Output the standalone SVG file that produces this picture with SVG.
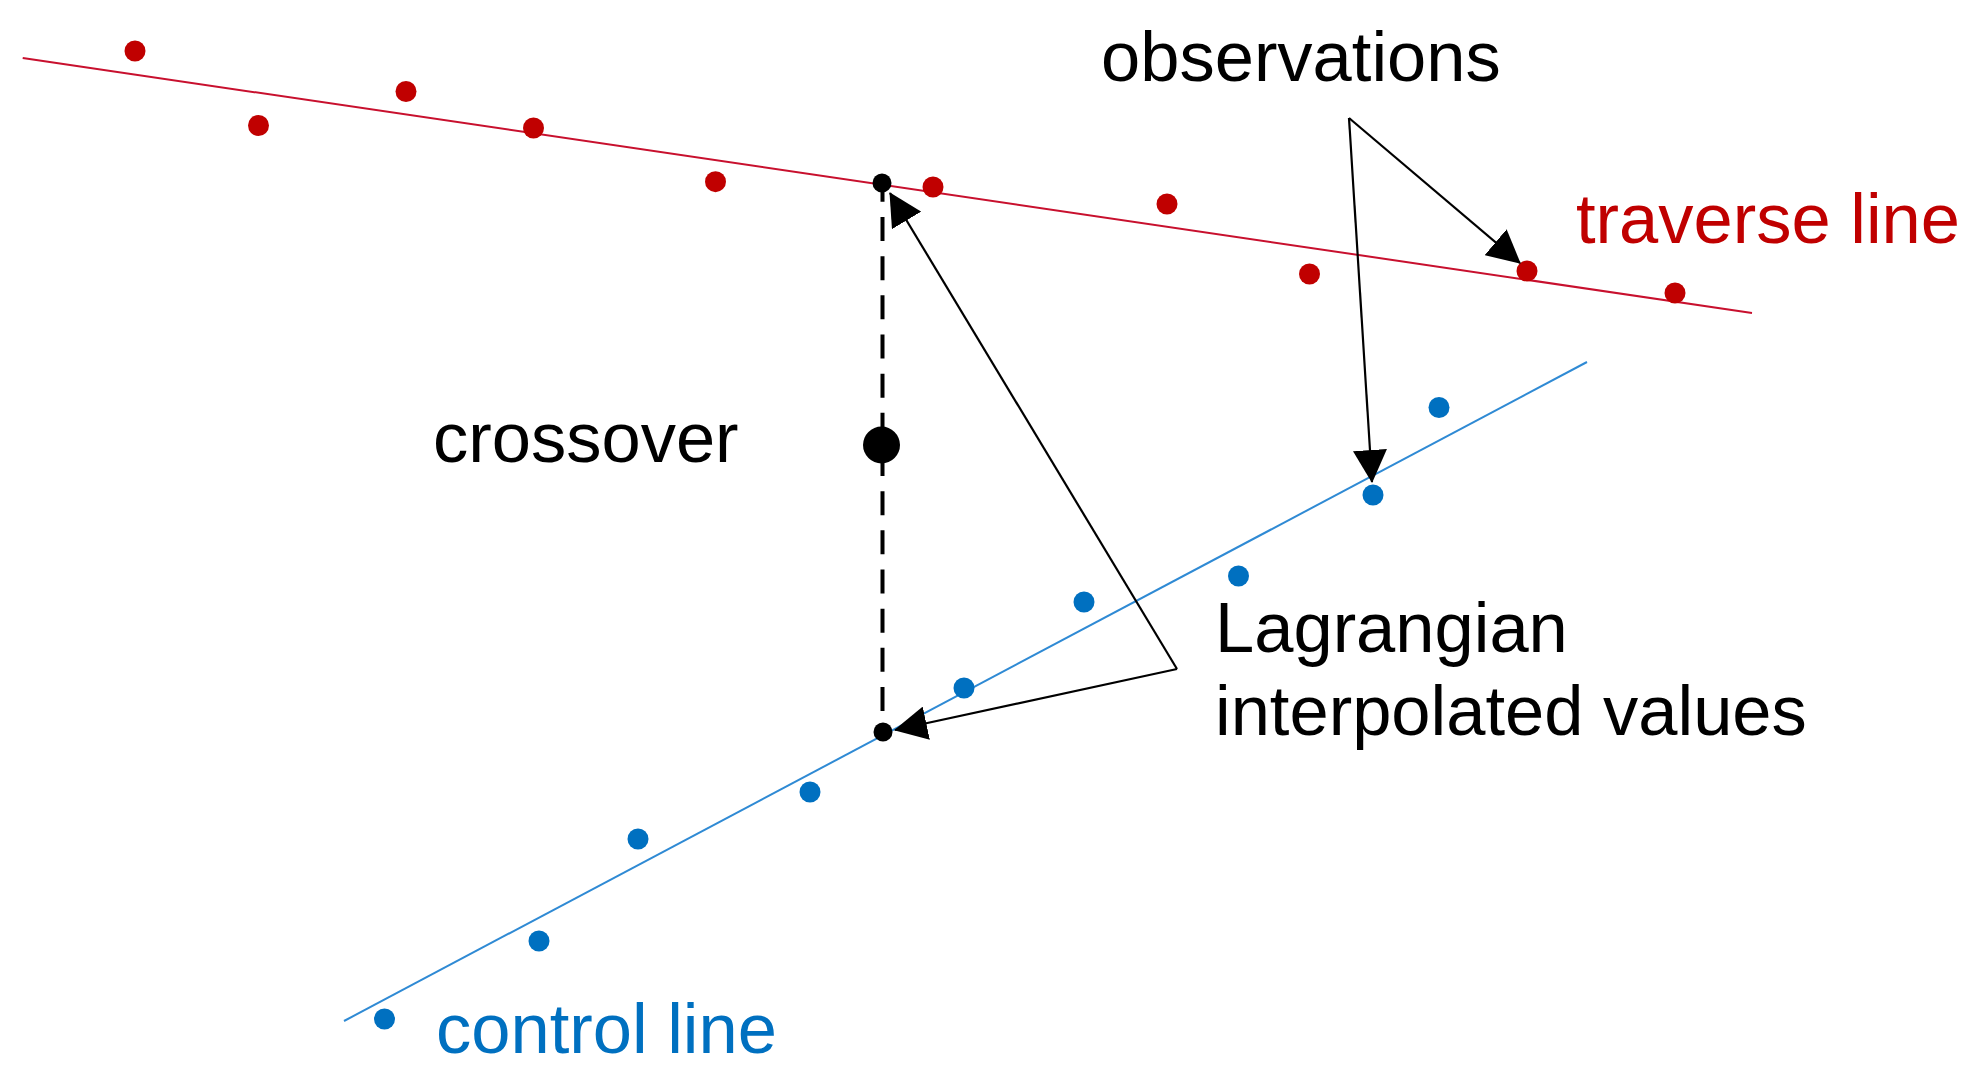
<svg xmlns="http://www.w3.org/2000/svg" width="1977" height="1074" viewBox="0 0 1977 1074">
<style>
  .lbl { font-family: "Liberation Sans", Arial, sans-serif; font-size: 70.5px; fill: #000; }
  .red { fill: #c00000; }
  .blue { fill: #0070c0; }
  .trav { stroke: #c8102e; stroke-width: 2; fill: none; }
  .ctrl { stroke: #2f8ad4; stroke-width: 2; fill: none; }
  .ptr { stroke: #000; stroke-width: 2.2; fill: none; }
  .dash { stroke: #000; stroke-width: 4; stroke-dasharray: 24 15.17; fill: none; }
</style>
<defs>
  <marker id="ah" markerUnits="userSpaceOnUse" markerWidth="33" markerHeight="34" viewBox="0 0 33 34" refX="32" refY="17" orient="auto">
    <path d="M0,0 L33,17 L0,34 z" fill="#000"/>
  </marker>
</defs>
<rect width="1977" height="1074" fill="#fff"/>

<g id="traverse-line">
  <line class="trav" x1="22.7" y1="58" x2="1752" y2="313"/>
  <g class="red">
    <circle cx="135" cy="51" r="10.5"/>
    <circle cx="258.5" cy="125.5" r="10.5"/>
    <circle cx="406" cy="91.5" r="10.5"/>
    <circle cx="533.5" cy="128" r="10.5"/>
    <circle cx="715.5" cy="181.7" r="10.5"/>
    <circle cx="933" cy="187" r="10.5"/>
    <circle cx="1167" cy="204" r="10.5"/>
    <circle cx="1309.5" cy="274" r="10.5"/>
    <circle cx="1527" cy="271" r="10.5"/>
    <circle cx="1675" cy="293" r="10.5"/>
  </g>
  <text class="lbl red" x="1576" y="243">traverse line</text>
</g>

<g id="control-line">
  <line class="ctrl" x1="344" y1="1021" x2="1587" y2="362"/>
  <g class="blue">
    <circle cx="384.5" cy="1019" r="10.5"/>
    <circle cx="539" cy="941" r="10.5"/>
    <circle cx="638" cy="839" r="10.5"/>
    <circle cx="810" cy="792" r="10.5"/>
    <circle cx="964" cy="688" r="10.5"/>
    <circle cx="1084" cy="602" r="10.5"/>
    <circle cx="1238.5" cy="576" r="10.5"/>
    <circle cx="1373" cy="495" r="10.5"/>
    <circle cx="1439" cy="407.5" r="10.5"/>
  </g>
  <text class="lbl blue" x="436" y="1053">control line</text>
</g>

<g id="crossover">
  <line class="dash" x1="882.5" y1="177.8" x2="882.5" y2="732"/>
  <circle cx="881.5" cy="445" r="18.5" fill="#000"/>
  <text class="lbl" x="433" y="462">crossover</text>
</g>

<g id="interp-points">
  <circle cx="882" cy="183" r="9.5" fill="#000"/>
  <circle cx="883" cy="732" r="9.5" fill="#000"/>
</g>

<g id="observations-label">
  <text class="lbl" x="1101" y="81">observations</text>
</g>

<g id="lagrangian-label">
  <text class="lbl" x="1215" y="652">Lagrangian</text>
  <text class="lbl" x="1215" y="735">interpolated values</text>
</g>

<g id="connectors">
  <line class="ptr" x1="1349" y1="118" x2="1520" y2="263" marker-end="url(#ah)"/>
  <line class="ptr" x1="1349" y1="118" x2="1372" y2="482" marker-end="url(#ah)"/>
  <line class="ptr" x1="1177" y1="669" x2="890" y2="193" marker-end="url(#ah)"/>
  <line class="ptr" x1="1177" y1="669" x2="895" y2="730" marker-end="url(#ah)"/>
</g>
</svg>
